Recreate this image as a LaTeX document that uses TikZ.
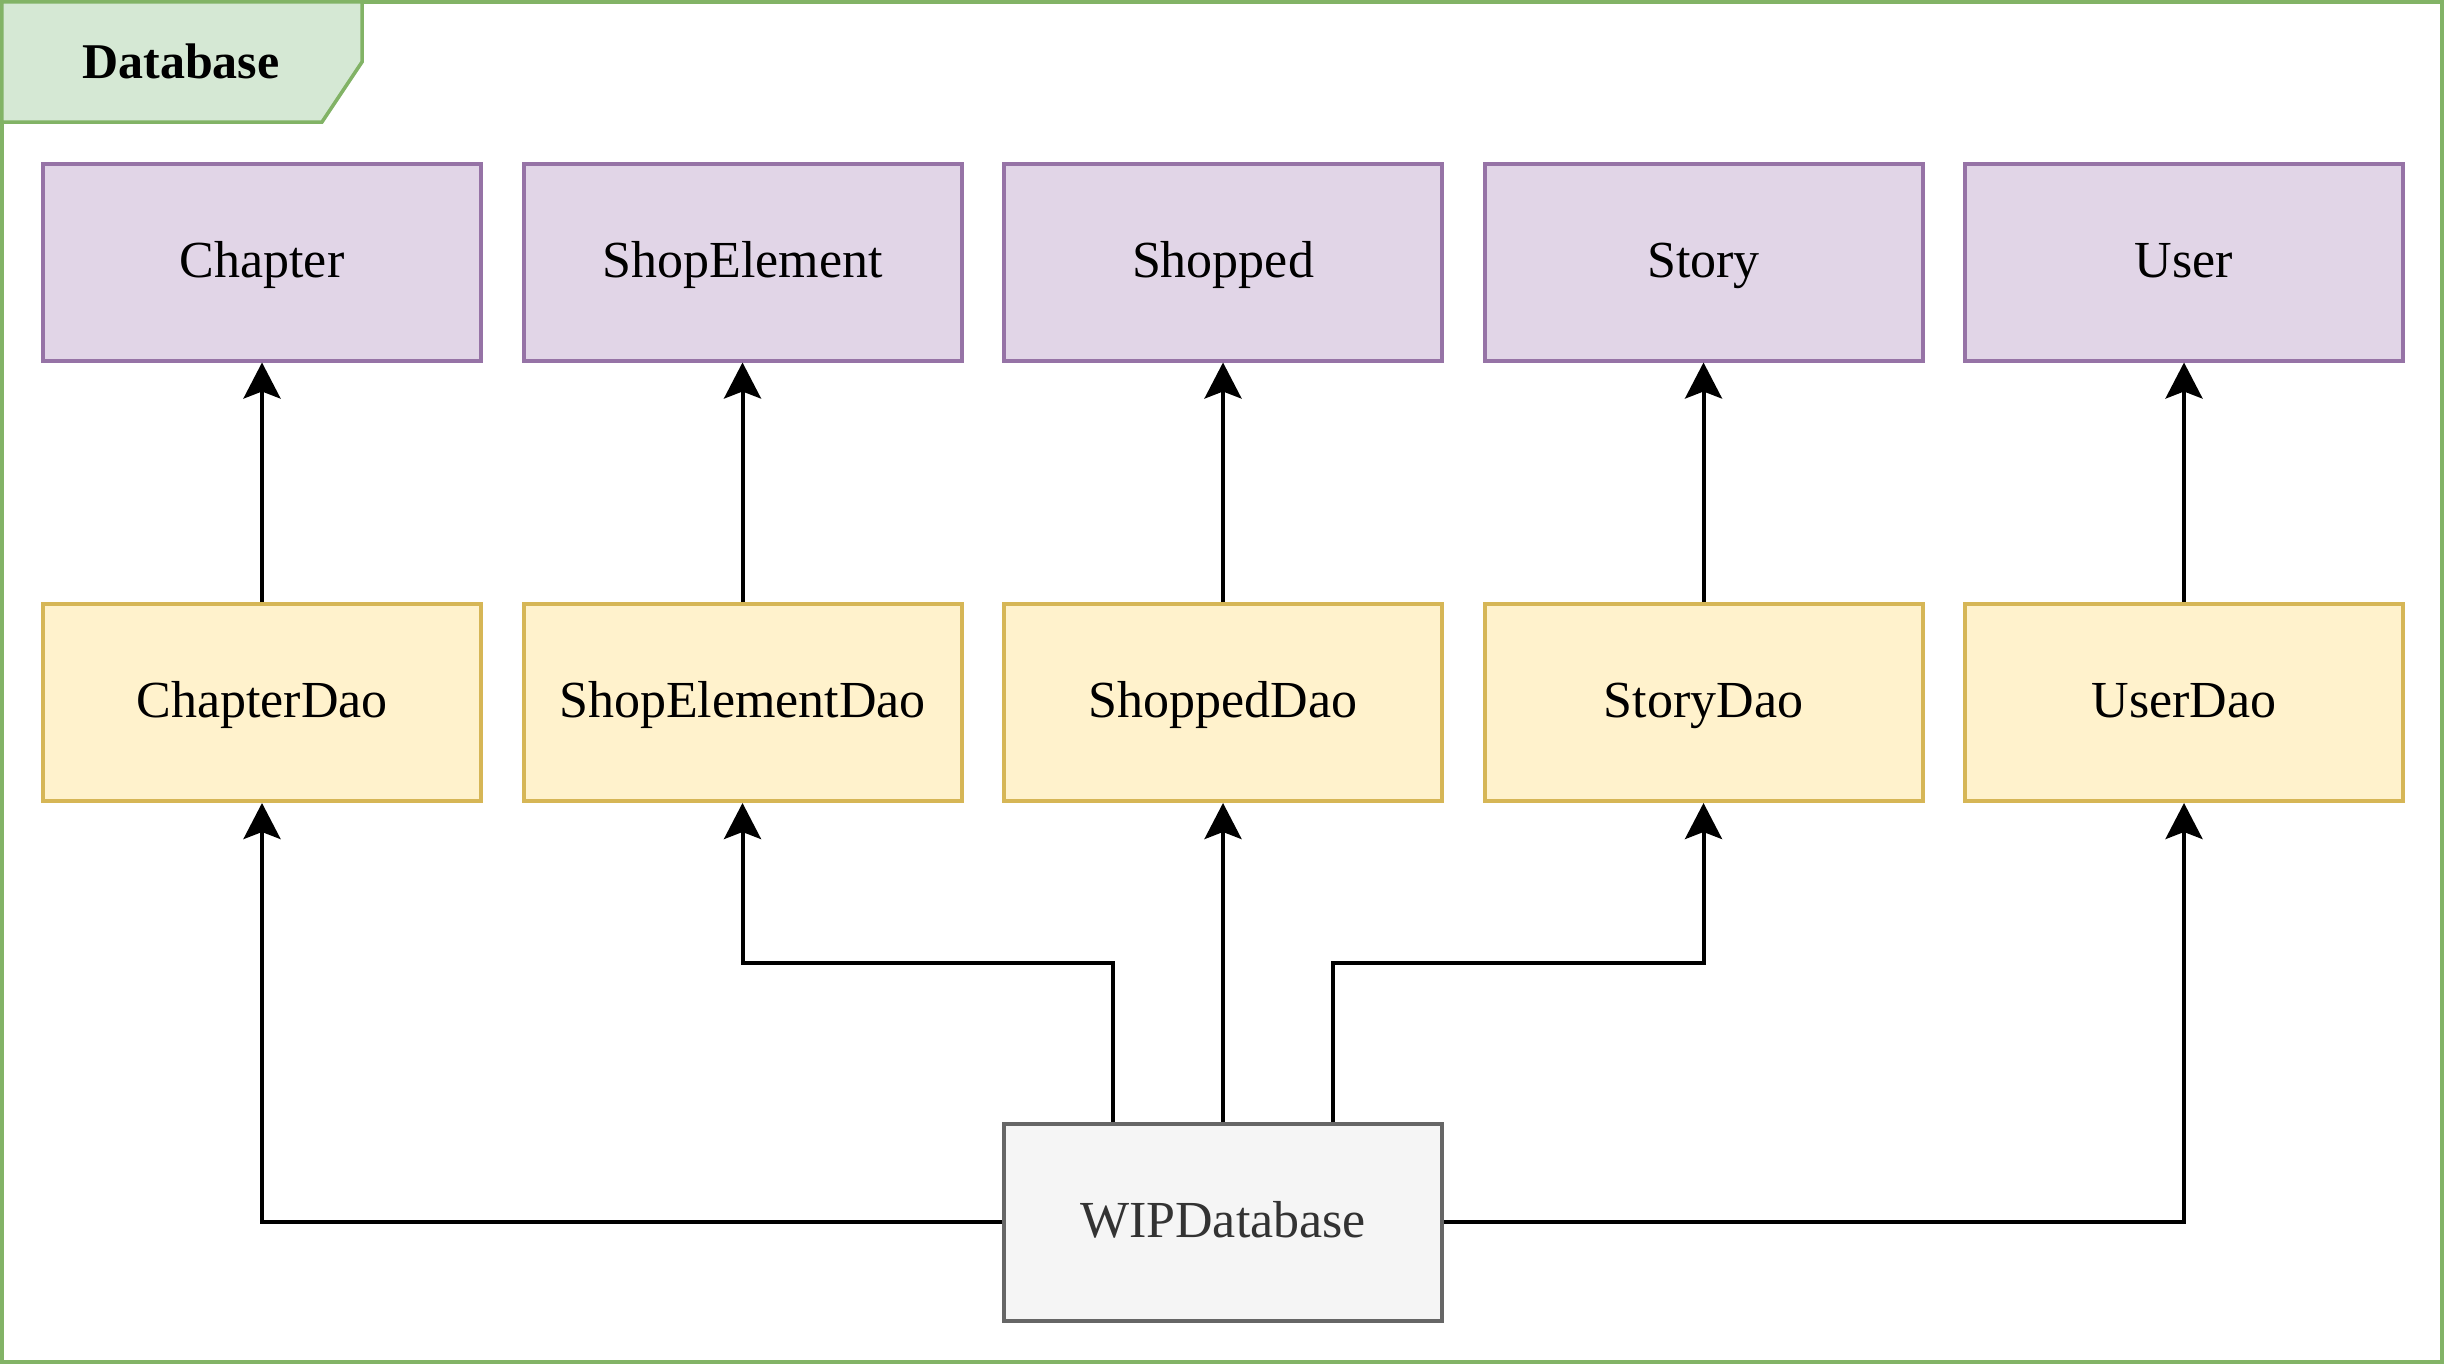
\documentclass[tikz,border=0pt]{standalone}
\usepackage{fontspec}
\setmainfont{Liberation Serif}
\usetikzlibrary{arrows.meta}
\definecolor{framec}{HTML}{82B366}
\definecolor{framef}{HTML}{D5E8D4}
\definecolor{purpled}{HTML}{9673A6}
\definecolor{purplef}{HTML}{E1D5E7}
\definecolor{yellowd}{HTML}{D6B656}
\definecolor{yellowf}{HTML}{FFF2CC}
\definecolor{greyd}{HTML}{666666}
\definecolor{greyf}{HTML}{F5F5F5}
\definecolor{greyt}{HTML}{333333}
\tikzset{
  basebox/.style={minimum width=438pt, minimum height=197pt, line width=4pt, inner sep=0pt,
    text height=38pt, text depth=8pt, font=\fontsize{52}{60}\selectfont},
  entbox/.style={basebox, draw=purpled, fill=purplef},
  daobox/.style={basebox, draw=yellowd, fill=yellowf},
  dbbox/.style={basebox, draw=greyd, fill=greyf, text=greyt},
  arr/.style={line width=4pt, -{Stealth[length=36pt, width=37pt, inset=7pt]}},
}
\begin{document}
\begin{tikzpicture}[x=1pt,y=-1pt]
\useasboundingbox (0,0) rectangle (2448,1368);
\draw[framec, line width=3.5pt, fill=white] (1.75,1.75) rectangle (2442,1362);
\draw[framec, line width=3.5pt, fill=framef] (1.75,1.75) -- (362,1.75) -- (362,62) -- (322,122) -- (1.75,122) -- cycle;
\node[font=\bfseries\fontsize{50}{60}\selectfont, inner sep=0pt] (title) at (181,61) {Database};

\node[entbox] (c) at (262,262) {Chapter};
\node[entbox] (se) at (742.5,262) {ShopElement};
\node[entbox] (sh) at (1223,262) {Shopped};
\node[entbox] (st) at (1703.5,262) {Story};
\node[entbox] (u) at (2184,262) {User};

\node[daobox] (cd) at (262,702.5) {ChapterDao};
\node[daobox] (sed) at (742.5,702.5) {ShopElementDao};
\node[daobox] (shd) at (1223,702.5) {ShoppedDao};
\node[daobox] (std) at (1703.5,702.5) {StoryDao};
\node[daobox] (ud) at (2184,702.5) {UserDao};

\node[dbbox] (wip) at (1223,1222) {WIPDatabase};

\draw[arr] (cd.north) -- (c.south);
\draw[arr] (sed.north) -- (se.south);
\draw[arr] (shd.north) -- (sh.south);
\draw[arr] (std.north) -- (st.south);
\draw[arr] (ud.north) -- (u.south);

\coordinate (wl) at ([xshift=-110pt]wip.north);
\coordinate (wr) at ([xshift=110pt]wip.north);
\coordinate (hl) at (0,963);
\draw[arr] (wip.west) -| (cd.south);
\draw[arr] (wip.east) -| (ud.south);
\draw[arr] (wip.north) -- (shd.south);
\draw[arr] (wl) -- (wl |- hl) -| (sed.south);
\draw[arr] (wr) -- (wr |- hl) -| (std.south);
\end{tikzpicture}
\end{document}
